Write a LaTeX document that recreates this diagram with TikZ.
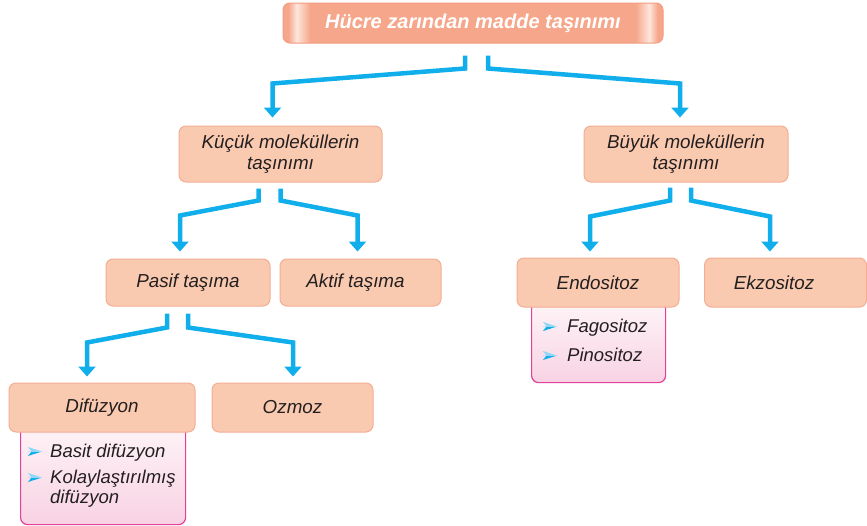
\documentclass[tikz,border=0pt]{standalone}
\usepackage{fontspec}
\setmainfont{Liberation Sans}
\usetikzlibrary{calc,arrows.meta}
\definecolor{boxfill}{HTML}{FACAB0}
\definecolor{boxline}{HTML}{F3AE94}
\definecolor{topfill}{HTML}{F6A68A}
\definecolor{toplight}{HTML}{FDE6DC}
\definecolor{topline}{HTML}{F29C80}
\definecolor{conncol}{HTML}{10AEEB}
\definecolor{bulletlight}{HTML}{8FD8F7}
\definecolor{subline}{HTML}{E2409B}
\definecolor{subtop}{HTML}{FEF5F8}
\definecolor{subbot}{HTML}{F8D2E3}
\definecolor{textc}{HTML}{231F20}
\pgfdeclarehorizontalshading{topbar}{100bp}{color(0bp)=(topfill); color(25bp)=(topfill); color(25.7bp)=(topfill); color(26.8bp)=(toplight); color(28.6bp)=(topfill); color(71.4bp)=(topfill); color(73.2bp)=(toplight); color(74.3bp)=(topfill); color(100bp)=(topfill)}
\tikzset{
  box/.style={draw=boxline, fill=boxfill, rounded corners=7pt, line width=1pt,
    font=\fontsize{18.8}{21}\selectfont\itshape, text=textc, align=center, inner sep=0pt},
  topbox/.style={draw=topline, shading=topbar, rounded corners=7pt, line width=1pt,
    font=\fontsize{20}{22}\selectfont\bfseries\itshape, text=white, inner sep=0pt},
  subbox/.style={draw=subline, top color=subtop, bottom color=subbot, rounded corners=7pt,
    line width=1.2pt, inner sep=0pt, anchor=north west},
  subtext/.style={font=\fontsize{18.5}{21}\selectfont\itshape, text=textc, inner sep=0pt, anchor=base west},
  conn/.style={draw=conncol, line width=4.5pt, line join=miter,
    -{Triangle[width=17pt,length=10pt]}},
  bul/.pic={
    \fill[conncol] (0,0) -- (14,0) -- (0,4.5) -- (3.5,0) -- cycle;
    \fill[bulletlight] (0,0) -- (14,0) -- (0,-4.5) -- (3.5,0) -- cycle;
  }
}
\begin{document}
\begin{tikzpicture}[x=1pt,y=-1pt]
\useasboundingbox (0,0) rectangle (867,525);
% sub boxes (behind)
\node[subbox, minimum width=165, minimum height=104] (difsub) at (20,420) {};
\node[subbox, minimum width=134, minimum height=82] (endosub) at (531,300) {};
% main boxes
\node[topbox, minimum width=380, minimum height=40] (top) at (473,23) {Hücre zarından madde taşınımı};
\node[box, minimum width=203, minimum height=56] (kucuk) at (280.5,154) {Küçük moleküllerin\\taşınımı};
\node[box, minimum width=204, minimum height=56] (buyuk) at (686,154) {Büyük moleküllerin\\taşınımı};
\node[box, minimum width=164, minimum height=47] (pasif) at (188,282.5) {Pasif taşıma};
\node[box, minimum width=161, minimum height=47] (aktif) at (360.5,282.5) {Aktif taşıma\hspace*{10pt}};
\node[box, minimum width=162, minimum height=49] (endo) at (598,282.5) {Endositoz};
\node[box, minimum width=162, minimum height=49] (ekzo) at (785.5,282.5) {Ekzositoz\hspace*{23pt}};
\node[box, minimum width=186, minimum height=49] (dif) at (102,407.5) {Difüzyon};
\node[box, minimum width=161, minimum height=49] (ozmoz) at (292.5,407.5) {Ozmoz};
% sub texts
\node[subtext] (b1) at (50,457) {Basit difüzyon};
\node[subtext] (k1) at (50,483) {Kolaylaştırılmış};
\node[subtext] (k2) at (50,503) {difüzyon};
\node[subtext] (f1) at (567,332) {Fagositoz};
\node[subtext] (p1) at (567,361) {Pinositoz};
\pic at ($(b1.base west)+(-22,-5.5)$) {bul};
\pic at ($(k1.base west)+(-22,-5.5)$) {bul};
\pic at ($(f1.base west)+(-24,-5.5)$) {bul};
\pic at ($(p1.base west)+(-24,-5.5)$) {bul};
% connectors
\draw[conn] ($(top.south)+(-8,12)$) -- ++(0,13) -- ($(kucuk.north)+(-8,-42)$) -- ($(kucuk.north)+(-8,-8)$);
\draw[conn] ($(top.south)+(15,12)$) -- ++(0,13) -- ($(buyuk.north)+(-6,-42)$) -- ($(buyuk.north)+(-6,-8)$);
\draw[conn] ($(kucuk.south)+(-22,6)$) -- ++(0,12) -- ($(pasif.north)+(-8,-43)$) -- ($(pasif.north)+(-8,-7)$);
\draw[conn] ($(kucuk.south)+(0,6)$) -- ++(0,12) -- ($(aktif.north)+(-3,-43)$) -- ($(aktif.north)+(-3,-7)$);
\draw[conn] ($(buyuk.south)+(-16,5)$) -- ++(0,13) -- ($(endo.north)+(-8,-41)$) -- ($(endo.north)+(-8,-6)$);
\draw[conn] ($(buyuk.south)+(5,5)$) -- ++(0,13) -- ($(ekzo.north)+(-15.5,-41)$) -- ($(ekzo.north)+(-15.5,-6)$);
\draw[conn] ($(pasif.south)+(-21,7)$) -- ++(0,14) -- ($(dif.north)+(-15,-40)$) -- ($(dif.north)+(-15,-6)$);
\draw[conn] ($(pasif.south)+(0,7)$) -- ++(0,14) -- ($(ozmoz.north)+(0.5,-40)$) -- ($(ozmoz.north)+(0.5,-6)$);
\end{tikzpicture}
\end{document}
